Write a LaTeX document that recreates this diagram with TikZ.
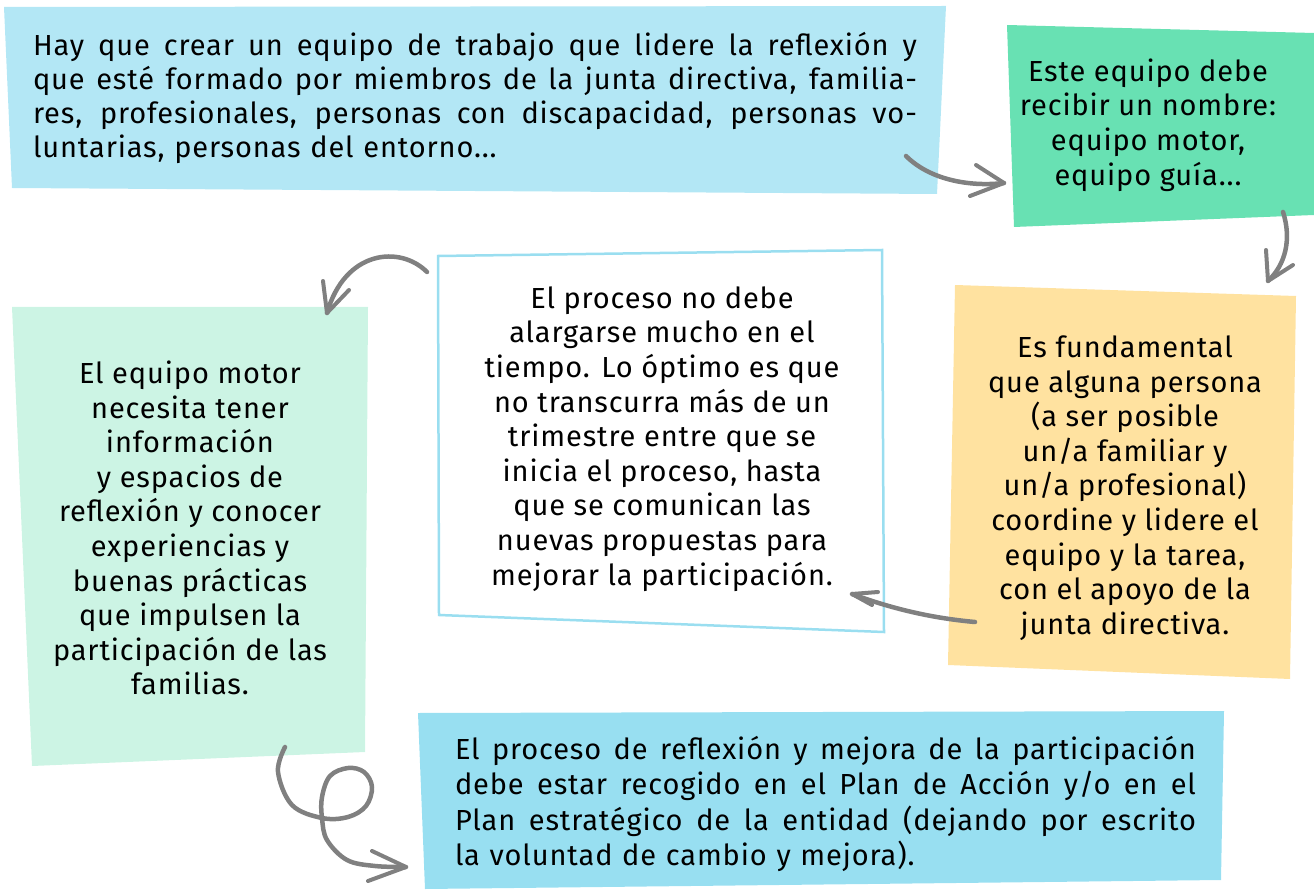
\documentclass[tikz,border=0pt]{standalone}
\usepackage{fontspec}
\setmainfont{Fira Sans}[LetterSpace=3]
\definecolor{cA}{HTML}{B3E7F5}
\definecolor{cB}{HTML}{68E1B3}
\definecolor{cC}{HTML}{CCF4E4}
\definecolor{cD}{HTML}{9ADEF0}
\definecolor{cE}{HTML}{FFE2A0}
\definecolor{cF}{HTML}{98DFF1}
\definecolor{arrowgray}{HTML}{808080}
\newcommand{\jline}[2]{\leavevmode\hbox to #1{\spaceskip=0.25em plus 1fil\relax #2}}
\begin{document}
\begin{tikzpicture}[x=1pt,y=-1pt,
  txt/.style={font=\fontsize{29}{34.6}\selectfont, inner sep=0pt, text=black},
  arr/.style={draw=arrowgray, line width=4.5pt, line cap=round, line join=round},
  barb/.style={draw=arrowgray, line width=4pt, line cap=round, line join=round}]
\useasboundingbox (0,0) rectangle (1314,890);
% boxes
\fill[cA] (4,7) -- (946,6) -- (937,194) -- (12,188) -- cycle;
\fill[cB] (1007,25) -- (1314,33) -- (1314,215) -- (1014,227) -- cycle;
\fill[cC] (12,307) -- (368,307) -- (365,752) -- (32,766) -- cycle;
\draw[cD, line width=2.5pt] (438,256) -- (882,250) -- (884,632) -- (439,615) -- cycle;
\fill[cE] (955,285) -- (1296,296) -- (1290,679) -- (948,665) -- cycle;
\fill[cF] (418,713) -- (1224,711) -- (1221,880) -- (425,889) -- cycle;
% texts
\node[txt, font=\fontsize{29}{34}\selectfont, text width=884pt, align=left] (t1) at (475,98) {%
\jline{884pt}{Hay que crear un equipo de trabajo que lidere la reflexión y}\\
\jline{884pt}{que esté formado por miembros de la junta directiva, familia-}\\
\jline{884pt}{res, profesionales, personas con discapacidad, personas vo-}\\
luntarias, personas del entorno...};
\node[txt, font=\fontsize{29}{34.7}\selectfont, align=center] (t2) at (1148,125) {Este equipo debe\\recibir un nombre:\\equipo motor,\\equipo guía...};
\node[txt, align=center] (t3) at (190,528) {El equipo motor\\necesita tener\\información\\y espacios de\\reflexión y conocer\\experiencias y\\buenas prácticas\\que impulsen la\\participación de las\\familias.};
\node[txt, align=center] (t4) at (662,439) {El proceso no debe\\alargarse mucho en el\\tiempo. Lo óptimo es que\\no transcurra más de un\\trimestre entre que se\\inicia el proceso, hasta\\que se comunican las\\nuevas propuestas para\\mejorar la participación.};
\node[txt, align=center] (t5) at (1125,488) {Es fundamental\\que alguna persona\\(a ser posible\\un/a familiar y\\un/a profesional)\\coordine y lidere el\\equipo y la tarea,\\con el apoyo de la\\junta directiva.};
\node[txt, font=\fontsize{29}{35.3}\selectfont, text width=741pt, align=left] (t6) at (825.5,804) {%
\jline{741pt}{El proceso de reflexión y mejora de la participación}\\
\jline{741pt}{debe estar recogido en el Plan de Acción y/o en el}\\
\jline{741pt}{Plan estratégico de la entidad (dejando por escrito}\\
la voluntad de cambio y mejora).};
% arrow end points
\coordinate (a1s) at (906,156); \coordinate (a1e) at (1004,183);
\coordinate (a2s) at (1283,212); \coordinate (a2e) at (1268,281);
\coordinate (a3s) at (427,272); \coordinate (a3e) at (327,313);
\coordinate (a4s) at (975,622); \coordinate (a4e) at (852,594);
\coordinate (a5s) at (285,747); \coordinate (a5e) at (406,867);
% arrows
\draw[arr] (a1s) .. controls (930,180) and (970,187) .. (a1e);
\draw[barb] (976,165) -- (a1e) -- (970,196);
\draw[arr] (a2s) .. controls (1292,240) and (1285,265) .. (a2e);
\draw[barb] (1266,250) -- (a2e) -- (1293,265);
\draw[arr] (a3s) .. controls (400,245) and (345,250) .. (a3e);
\draw[barb] (323,281) -- (a3e) -- (349,290);
\draw[arr] (a4s) .. controls (930,618) and (890,608) .. (a4e);
\draw[barb] (878,592) -- (a4e) -- (872,605);
\draw[arr] plot[smooth, tension=0.6] coordinates {(285,747) (278,772) (292,805) (322,818) (348,817) (366,806) (372,787) (364,772) (348,768) (330,776) (322,797) (322,818) (327,840) (347,860) (375,866) (406,867)};
\draw[barb] (372,851) -- (a5e) -- (368,881);
\end{tikzpicture}
\end{document}
